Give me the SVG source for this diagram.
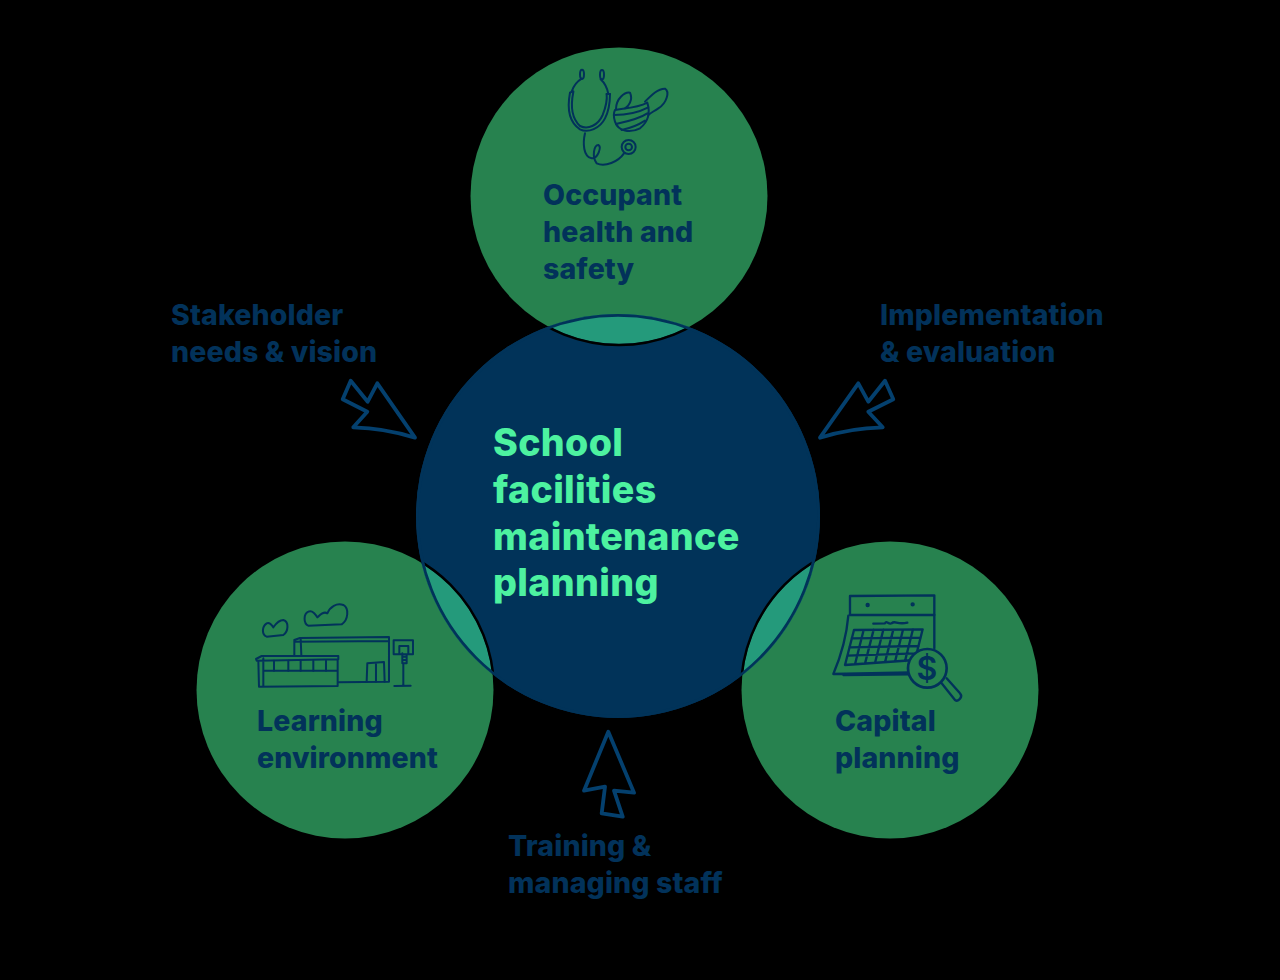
<svg xmlns="http://www.w3.org/2000/svg" width="1280" height="980" viewBox="0 0 1280 980">
<style>
.t{font-family:"Inter","Liberation Sans",sans-serif;font-weight:800}
.lbl{font-size:28.5px;fill:#02325a;letter-spacing:.12px}
.main{font-size:37.6px;fill:#4df2a0;letter-spacing:.35px}
.sm{fill:#27824f}
.lens{fill:#249a7b}
.ic{fill:none;stroke:#02325a;stroke-width:6;stroke-linecap:round;stroke-linejoin:round}
.arr{fill:none;stroke:#04406e;stroke-width:3.8;stroke-linejoin:round}
</style>
<defs>
<clipPath id="big"><circle cx="618" cy="516" r="202"/></clipPath>
</defs>
<rect width="1280" height="980" fill="#000"/>
<g id="node-health"><circle class="sm" cx="619" cy="196" r="148.5"/></g>
<g id="node-learning"><circle class="sm" cx="345" cy="690" r="148.5"/></g>
<g id="node-capital"><circle class="sm" cx="890" cy="690" r="148.5"/></g>
<g id="node-center"><circle cx="618" cy="516" r="202" fill="#013359"/></g>
<g id="overlaps" clip-path="url(#big)">
<circle class="lens" cx="619" cy="196" r="148"/>
<circle class="lens" cx="345" cy="690" r="148"/>
<circle class="lens" cx="890" cy="690" r="148"/>
<circle cx="619" cy="196" r="149" fill="none" stroke="#000" stroke-width="2.5"/>
<circle cx="345" cy="690" r="149" fill="none" stroke="#000" stroke-width="2.5"/>
<circle cx="890" cy="690" r="149" fill="none" stroke="#000" stroke-width="2.5"/>
<circle cx="618" cy="516" r="201" fill="none" stroke="#013359" stroke-width="3.5"/>
</g>
<g id="icon-health" class="ic" transform="translate(530 50) scale(.3333)">
<ellipse cx="156" cy="73" rx="6" ry="14"/><ellipse cx="216" cy="74" rx="6" ry="14"/>
<path d="M155 86C140 95 130 110 125 125M212 88C225 100 232 115 235 132"/>
<path d="M120 128C112 170 115 215 150 238C175 250 210 235 225 205C238 180 240 150 240 132"/>
<path d="M130 126C122 165 125 205 150 228C175 240 205 225 218 195C228 170 232 150 230 132"/>
<path d="M120 128L130 124M230 132L240 132"/>
<path d="M165 250C158 280 160 320 185 325C205 325 215 290 205 285C192 285 185 320 200 340C225 352 265 335 282 310"/>
<circle cx="296" cy="291" r="21"/><circle cx="296" cy="291" r="10"/>
<path d="M255 180C280 175 320 175 352 158C362 190 355 215 330 235C300 250 265 245 255 215C250 200 250 190 255 180Z"/>
<path d="M258 178C258 145 285 125 300 128C310 150 295 170 285 175"/>
<path d="M345 155C365 135 385 115 405 116C420 125 410 160 385 175C370 185 360 190 355 195"/>
<path d="M252 195C290 195 330 185 355 172M258 222C290 215 330 205 352 190M275 240C300 235 325 225 345 212"/>
</g>
<g id="icon-learning" class="ic" transform="translate(240 590) scale(.3333)">
<path d="M80 100C65 110 65 135 80 140L130 135C145 125 148 95 130 90C115 90 105 105 100 112C95 105 90 95 80 100Z"/>
<path d="M205 65C190 72 190 100 205 107L305 103C325 90 328 55 310 45C290 38 270 50 262 70C250 62 240 75 232 82C225 70 215 60 205 65Z"/>
<path d="M163 195L163 150L180 144L447 141L447 275L295 277M165 155L447 153M182 146L184 195"/>
<path d="M48 207L65 198L295 198L295 208L50 212ZM55 212L57 290L293 288L293 208M70 205L70 290M70 242L293 242"/>
<path d="M102 212V242M145 212V242M182 212V242M220 212V242M258 212V242"/>
<path d="M380 275L382 220L432 216L434 275M408 218L408 275"/>
<path d="M461 151H519V193H461ZM478 190V168H505V190M487 190L487 220H500V193M487 200H500M487 210H500M490 220L490 287M463 288L512 287"/>
</g>
<g id="icon-capital" class="ic" transform="translate(820 585) scale(.3333)" style="stroke-width:7">
<path d="M90 33L343 31L343 90L90 90Z"/>
<circle cx="143" cy="60" r="3"/><circle cx="278" cy="58" r="3"/>
<path d="M85 92C80 150 60 220 40 267L270 262M343 90L343 190M70 270L270 268"/>
<path d="M160 116L195 115C200 105 205 120 215 115C225 105 230 120 262 113"/>
<path d="M102 135L308 133L285 225L75 240ZM95 160L302 158M88 187L296 183M82 212L290 205M131 135L105 238M161 134L135 236M190 134L165 234M220 134L195 232M249 134L225 230M279 133L255 228"/>
<circle cx="322" cy="250" r="58" fill="#27824f" stroke-width="8"/>
<path d="M365 295L405 345C415 352 430 335 420 325L380 280"/>
</g>
<text x="927" y="680" font-family="Inter,'Liberation Sans',sans-serif" font-weight="600" font-size="32" fill="#02325a" text-anchor="middle">$</text>
<g id="labels">
<text class="t lbl" x="543" y="205">Occupant</text>
<text class="t lbl" x="543" y="242">health and</text>
<text class="t lbl" x="543" y="279">safety</text>
<text class="t lbl" x="257" y="731">Learning</text>
<text class="t lbl" x="257" y="768">environment</text>
<text class="t lbl" x="835" y="731">Capital</text>
<text class="t lbl" x="835" y="768">planning</text>
<text class="t lbl" x="171" y="325">Stakeholder</text>
<text class="t lbl" x="171" y="362">needs &amp; vision</text>
<text class="t lbl" x="880" y="325">Implementation</text>
<text class="t lbl" x="880" y="362">&amp; evaluation</text>
<text class="t lbl" x="508" y="856">Training &amp;</text>
<text class="t lbl" x="508" y="893">managing staff</text>
<text class="t main" x="493" y="456">School</text>
<text class="t main" x="493" y="503">facilities</text>
<text class="t main" x="493" y="550">maintenance</text>
<text class="t main" x="493" y="596">planning</text>
</g>
<g id="connectors">
<path class="arr" d="M350.7 380.7L367.7 401.7L377.3 383.3L415 437.7Q385 428 353.3 427.3L367.3 411.7L342.7 399.3Z"/>
<path class="arr" d="M858.3 383.3L868.3 401.7L885 380.7L893.3 399.3L868.3 411.7L882.7 427.3Q850 428 820 437.7Z"/>
<path class="arr" d="M608.3 731.7L634 792.7L614 790.7L622.7 816.7L601.7 813.3L605 786.7L584 790.7Z"/>
</g>
</svg>
